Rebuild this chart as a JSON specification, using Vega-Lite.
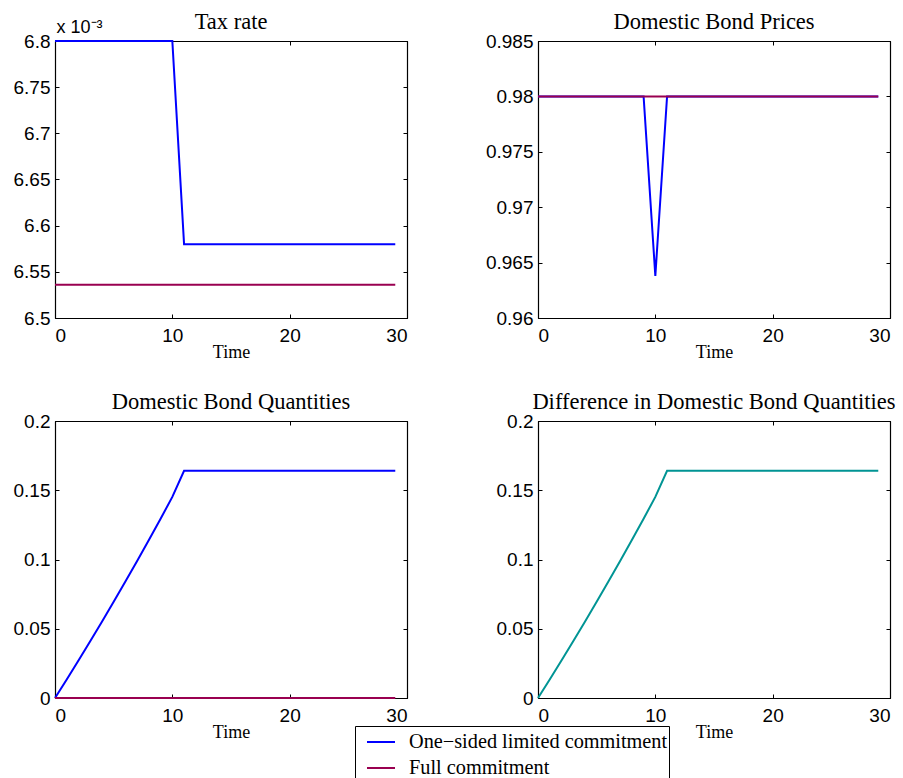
{
  "$schema": "https://vega.github.io/schema/vega-lite/v6.json",
  "background": "white",
  "padding": {"left": 12, "top": 10, "right": 5, "bottom": 0},
  "autosize": {"type": "pad"},
  "config": {
    "view": {"stroke": "black", "strokeWidth": 1},
    "axis": {
      "grid": false,
      "labelFont": "Liberation Sans",
      "labelFontSize": 19,
      "labelColor": "black",
      "domainColor": "black",
      "domainWidth": 1.2,
      "tickColor": "black",
      "tickSize": -4,
      "tickWidth": 1,
      "titleFont": "Liberation Serif",
      "titleFontSize": 18,
      "titleFontWeight": "normal",
      "titleColor": "black"
    },
    "title": {"font": "Liberation Serif", "fontSize": 22.5, "fontWeight": "normal", "color": "black", "frame": "group", "baseline": "alphabetic", "offset": -1},
    "legend": {
      "orient": "none",
      "legendX": 300,
      "legendY": 685,
      "title": null,
      "strokeColor": "black",
      "fillColor": "white",
      "padding": 1,
      "symbolOffset": 10,
      "labelFont": "Liberation Serif",
      "labelFontSize": 20.3,
      "labelColor": "black",
      "labelOffset": 13,
      "labelLimit": 400,
      "symbolType": "stroke",
      "symbolSize": 784,
      "symbolStrokeWidth": 1.5,
      "rowPadding": 0,
      "cornerRadius": 0
    },
    "line": {"strokeWidth": 2}
  },
  "datasets": {
    "tax": [
      {"t": 0, "One−sided limited commitment": 6.8, "Full commitment": 6.536},
      {"t": 1, "One−sided limited commitment": 6.8, "Full commitment": 6.536},
      {"t": 2, "One−sided limited commitment": 6.8, "Full commitment": 6.536},
      {"t": 3, "One−sided limited commitment": 6.8, "Full commitment": 6.536},
      {"t": 4, "One−sided limited commitment": 6.8, "Full commitment": 6.536},
      {"t": 5, "One−sided limited commitment": 6.8, "Full commitment": 6.536},
      {"t": 6, "One−sided limited commitment": 6.8, "Full commitment": 6.536},
      {"t": 7, "One−sided limited commitment": 6.8, "Full commitment": 6.536},
      {"t": 8, "One−sided limited commitment": 6.8, "Full commitment": 6.536},
      {"t": 9, "One−sided limited commitment": 6.8, "Full commitment": 6.536},
      {"t": 10, "One−sided limited commitment": 6.8, "Full commitment": 6.536},
      {"t": 11, "One−sided limited commitment": 6.58, "Full commitment": 6.536},
      {"t": 12, "One−sided limited commitment": 6.58, "Full commitment": 6.536},
      {"t": 13, "One−sided limited commitment": 6.58, "Full commitment": 6.536},
      {"t": 14, "One−sided limited commitment": 6.58, "Full commitment": 6.536},
      {"t": 15, "One−sided limited commitment": 6.58, "Full commitment": 6.536},
      {"t": 16, "One−sided limited commitment": 6.58, "Full commitment": 6.536},
      {"t": 17, "One−sided limited commitment": 6.58, "Full commitment": 6.536},
      {"t": 18, "One−sided limited commitment": 6.58, "Full commitment": 6.536},
      {"t": 19, "One−sided limited commitment": 6.58, "Full commitment": 6.536},
      {"t": 20, "One−sided limited commitment": 6.58, "Full commitment": 6.536},
      {"t": 21, "One−sided limited commitment": 6.58, "Full commitment": 6.536},
      {"t": 22, "One−sided limited commitment": 6.58, "Full commitment": 6.536},
      {"t": 23, "One−sided limited commitment": 6.58, "Full commitment": 6.536},
      {"t": 24, "One−sided limited commitment": 6.58, "Full commitment": 6.536},
      {"t": 25, "One−sided limited commitment": 6.58, "Full commitment": 6.536},
      {"t": 26, "One−sided limited commitment": 6.58, "Full commitment": 6.536},
      {"t": 27, "One−sided limited commitment": 6.58, "Full commitment": 6.536},
      {"t": 28, "One−sided limited commitment": 6.58, "Full commitment": 6.536},
      {"t": 29, "One−sided limited commitment": 6.58, "Full commitment": 6.536}
    ],
    "price": [
      {"t": 0, "One−sided limited commitment": 0.98, "Full commitment": 0.98},
      {"t": 1, "One−sided limited commitment": 0.98, "Full commitment": 0.98},
      {"t": 2, "One−sided limited commitment": 0.98, "Full commitment": 0.98},
      {"t": 3, "One−sided limited commitment": 0.98, "Full commitment": 0.98},
      {"t": 4, "One−sided limited commitment": 0.98, "Full commitment": 0.98},
      {"t": 5, "One−sided limited commitment": 0.98, "Full commitment": 0.98},
      {"t": 6, "One−sided limited commitment": 0.98, "Full commitment": 0.98},
      {"t": 7, "One−sided limited commitment": 0.98, "Full commitment": 0.98},
      {"t": 8, "One−sided limited commitment": 0.98, "Full commitment": 0.98},
      {"t": 9, "One−sided limited commitment": 0.98, "Full commitment": 0.98},
      {"t": 10, "One−sided limited commitment": 0.9638, "Full commitment": 0.98},
      {"t": 11, "One−sided limited commitment": 0.98, "Full commitment": 0.98},
      {"t": 12, "One−sided limited commitment": 0.98, "Full commitment": 0.98},
      {"t": 13, "One−sided limited commitment": 0.98, "Full commitment": 0.98},
      {"t": 14, "One−sided limited commitment": 0.98, "Full commitment": 0.98},
      {"t": 15, "One−sided limited commitment": 0.98, "Full commitment": 0.98},
      {"t": 16, "One−sided limited commitment": 0.98, "Full commitment": 0.98},
      {"t": 17, "One−sided limited commitment": 0.98, "Full commitment": 0.98},
      {"t": 18, "One−sided limited commitment": 0.98, "Full commitment": 0.98},
      {"t": 19, "One−sided limited commitment": 0.98, "Full commitment": 0.98},
      {"t": 20, "One−sided limited commitment": 0.98, "Full commitment": 0.98},
      {"t": 21, "One−sided limited commitment": 0.98, "Full commitment": 0.98},
      {"t": 22, "One−sided limited commitment": 0.98, "Full commitment": 0.98},
      {"t": 23, "One−sided limited commitment": 0.98, "Full commitment": 0.98},
      {"t": 24, "One−sided limited commitment": 0.98, "Full commitment": 0.98},
      {"t": 25, "One−sided limited commitment": 0.98, "Full commitment": 0.98},
      {"t": 26, "One−sided limited commitment": 0.98, "Full commitment": 0.98},
      {"t": 27, "One−sided limited commitment": 0.98, "Full commitment": 0.98},
      {"t": 28, "One−sided limited commitment": 0.98, "Full commitment": 0.98},
      {"t": 29, "One−sided limited commitment": 0.98, "Full commitment": 0.98}
    ],
    "quantity": [
      {"t": 0, "One−sided limited commitment": 0, "Full commitment": 0, "diff": 0},
      {"t": 1, "One−sided limited commitment": 0.0134, "Full commitment": 0, "diff": 0.0134},
      {"t": 2, "One−sided limited commitment": 0.0271, "Full commitment": 0, "diff": 0.0271},
      {"t": 3, "One−sided limited commitment": 0.041, "Full commitment": 0, "diff": 0.041},
      {"t": 4, "One−sided limited commitment": 0.0551, "Full commitment": 0, "diff": 0.0551},
      {"t": 5, "One−sided limited commitment": 0.0695, "Full commitment": 0, "diff": 0.0695},
      {"t": 6, "One−sided limited commitment": 0.0841, "Full commitment": 0, "diff": 0.0841},
      {"t": 7, "One−sided limited commitment": 0.099, "Full commitment": 0, "diff": 0.099},
      {"t": 8, "One−sided limited commitment": 0.1141, "Full commitment": 0, "diff": 0.1141},
      {"t": 9, "One−sided limited commitment": 0.1294, "Full commitment": 0, "diff": 0.1294},
      {"t": 10, "One−sided limited commitment": 0.1452, "Full commitment": 0, "diff": 0.1452},
      {"t": 11, "One−sided limited commitment": 0.1641, "Full commitment": 0, "diff": 0.1641},
      {"t": 12, "One−sided limited commitment": 0.1641, "Full commitment": 0, "diff": 0.1641},
      {"t": 13, "One−sided limited commitment": 0.1641, "Full commitment": 0, "diff": 0.1641},
      {"t": 14, "One−sided limited commitment": 0.1641, "Full commitment": 0, "diff": 0.1641},
      {"t": 15, "One−sided limited commitment": 0.1641, "Full commitment": 0, "diff": 0.1641},
      {"t": 16, "One−sided limited commitment": 0.1641, "Full commitment": 0, "diff": 0.1641},
      {"t": 17, "One−sided limited commitment": 0.1641, "Full commitment": 0, "diff": 0.1641},
      {"t": 18, "One−sided limited commitment": 0.1641, "Full commitment": 0, "diff": 0.1641},
      {"t": 19, "One−sided limited commitment": 0.1641, "Full commitment": 0, "diff": 0.1641},
      {"t": 20, "One−sided limited commitment": 0.1641, "Full commitment": 0, "diff": 0.1641},
      {"t": 21, "One−sided limited commitment": 0.1641, "Full commitment": 0, "diff": 0.1641},
      {"t": 22, "One−sided limited commitment": 0.1641, "Full commitment": 0, "diff": 0.1641},
      {"t": 23, "One−sided limited commitment": 0.1641, "Full commitment": 0, "diff": 0.1641},
      {"t": 24, "One−sided limited commitment": 0.1641, "Full commitment": 0, "diff": 0.1641},
      {"t": 25, "One−sided limited commitment": 0.1641, "Full commitment": 0, "diff": 0.1641},
      {"t": 26, "One−sided limited commitment": 0.1641, "Full commitment": 0, "diff": 0.1641},
      {"t": 27, "One−sided limited commitment": 0.1641, "Full commitment": 0, "diff": 0.1641},
      {"t": 28, "One−sided limited commitment": 0.1641, "Full commitment": 0, "diff": 0.1641},
      {"t": 29, "One−sided limited commitment": 0.1641, "Full commitment": 0, "diff": 0.1641}
    ]
  },
  "spacing": 28,
  "vconcat": [
    {
      "spacing": 76,
      "hconcat": [
        {
          "width": 352, "height": 277,
          "title": {"text": "Tax rate", "offset": -15},
          "data": {"name": "tax"},
          "transform": [{"fold": ["One−sided limited commitment", "Full commitment"], "as": ["series", "v"]}],
          "layer": [
            {
              "mark": {"type": "line", "strokeWidth": 2},
              "encoding": {
                "x": {"field": "t", "type": "quantitative", "scale": {"domain": [0, 30], "nice": false},
                      "axis": {"orient": "bottom", "values": [0, 10, 20, 30], "format": "~r", "title": "Time", "labelPadding": 12, "titlePadding": -2}},
                "y": {"field": "v", "type": "quantitative", "scale": {"domain": [6.5, 6.8], "nice": false, "zero": false},
                      "axis": {"orient": "left", "values": [6.5, 6.55, 6.6, 6.65, 6.7, 6.75, 6.8], "format": "~r", "labelPadding": 9,
                               "title": "x 10⁻³", "titleAngle": 0, "titleAlign": "left", "titleBaseline": "alphabetic", "titleX": 1, "titleY": -9,
                               "titleFont": "Liberation Sans", "titleFontSize": 18}},
                "color": {"field": "series", "type": "nominal",
                          "scale": {"domain": ["One−sided limited commitment", "Full commitment"], "range": ["#0000ff", "#990050"]}}
              }
            },
            {
              "mark": {"type": "line", "opacity": 0},
              "encoding": {
                "x": {"field": "t", "type": "quantitative", "axis": {"orient": "top", "values": [0, 10, 20, 30], "labels": false, "title": null}},
                "y": {"field": "v", "type": "quantitative", "axis": {"orient": "right", "values": [6.5, 6.55, 6.6, 6.65, 6.7, 6.75, 6.8], "labels": false, "title": null}}
              }
            }
          ]
        },
        {
          "width": 352, "height": 277,
          "title": "Domestic Bond Prices",
          "data": {"name": "price"},
          "transform": [{"fold": ["One−sided limited commitment", "Full commitment"], "as": ["series", "v"]}],
          "layer": [
            {
              "mark": {"type": "line", "strokeWidth": 2},
              "encoding": {
                "x": {"field": "t", "type": "quantitative", "scale": {"domain": [0, 30], "nice": false},
                      "axis": {"orient": "bottom", "values": [0, 10, 20, 30], "format": "~r", "title": "Time", "labelPadding": 12, "titlePadding": -2}},
                "y": {"field": "v", "type": "quantitative", "scale": {"domain": [0.96, 0.985], "nice": false, "zero": false},
                      "axis": {"orient": "left", "values": [0.96, 0.965, 0.97, 0.975, 0.98, 0.985], "format": "~r", "labelPadding": 9, "title": null}},
                "color": {"field": "series", "type": "nominal",
                          "scale": {"domain": ["One−sided limited commitment", "Full commitment"], "range": ["#0000ff", "#990050"]}}
              }
            },
            {
              "mark": {"type": "line", "opacity": 0},
              "encoding": {
                "x": {"field": "t", "type": "quantitative", "axis": {"orient": "top", "values": [0, 10, 20, 30], "labels": false, "title": null}},
                "y": {"field": "v", "type": "quantitative", "axis": {"orient": "right", "values": [0.96, 0.965, 0.97, 0.975, 0.98, 0.985], "labels": false, "title": null}}
              }
            }
          ]
        }
      ]
    },
    {
      "spacing": 87,
      "hconcat": [
        {
          "width": 352, "height": 277,
          "title": "Domestic Bond Quantities",
          "data": {"name": "quantity"},
          "transform": [{"fold": ["One−sided limited commitment", "Full commitment"], "as": ["series", "v"]}],
          "layer": [
            {
              "mark": {"type": "line", "strokeWidth": 2},
              "encoding": {
                "x": {"field": "t", "type": "quantitative", "scale": {"domain": [0, 30], "nice": false},
                      "axis": {"orient": "bottom", "values": [0, 10, 20, 30], "format": "~r", "title": "Time", "labelPadding": 12, "titlePadding": -2}},
                "y": {"field": "v", "type": "quantitative", "scale": {"domain": [0, 0.2], "nice": false, "zero": false},
                      "axis": {"orient": "left", "values": [0, 0.05, 0.1, 0.15, 0.2], "format": "~r", "labelPadding": 9, "title": null}},
                "color": {"field": "series", "type": "nominal",
                          "scale": {"domain": ["One−sided limited commitment", "Full commitment"], "range": ["#0000ff", "#990050"]}}
              }
            },
            {
              "mark": {"type": "line", "opacity": 0},
              "encoding": {
                "x": {"field": "t", "type": "quantitative", "axis": {"orient": "top", "values": [0, 10, 20, 30], "labels": false, "title": null}},
                "y": {"field": "v", "type": "quantitative", "axis": {"orient": "right", "values": [0, 0.05, 0.1, 0.15, 0.2], "labels": false, "title": null}}
              }
            }
          ]
        },
        {
          "width": 352, "height": 277,
          "title": "Difference in Domestic Bond Quantities",
          "data": {"name": "quantity"},
          "layer": [
            {
              "mark": {"type": "line", "strokeWidth": 2, "color": "#009494"},
              "encoding": {
                "x": {"field": "t", "type": "quantitative", "scale": {"domain": [0, 30], "nice": false},
                      "axis": {"orient": "bottom", "values": [0, 10, 20, 30], "format": "~r", "title": "Time", "labelPadding": 12, "titlePadding": -2}},
                "y": {"field": "diff", "type": "quantitative", "scale": {"domain": [0, 0.2], "nice": false, "zero": false},
                      "axis": {"orient": "left", "values": [0, 0.05, 0.1, 0.15, 0.2], "format": "~r", "labelPadding": 9, "title": null}}
              }
            },
            {
              "mark": {"type": "line", "opacity": 0},
              "encoding": {
                "x": {"field": "t", "type": "quantitative", "axis": {"orient": "top", "values": [0, 10, 20, 30], "labels": false, "title": null}},
                "y": {"field": "diff", "type": "quantitative", "axis": {"orient": "right", "values": [0, 0.05, 0.1, 0.15, 0.2], "labels": false, "title": null}}
              }
            }
          ]
        }
      ]
    }
  ]
}
